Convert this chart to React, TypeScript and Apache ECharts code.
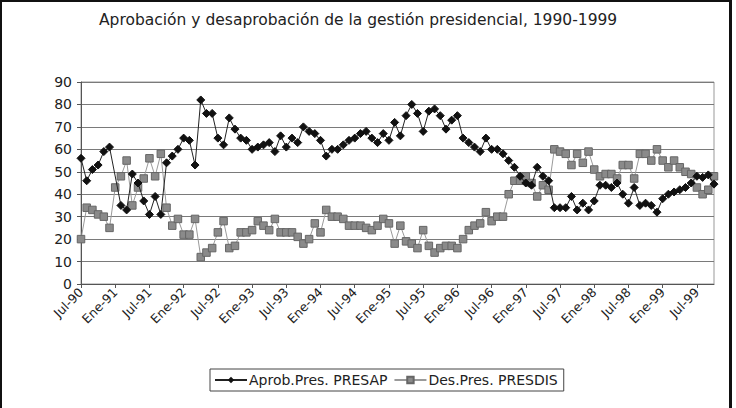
import React, { useEffect, useRef } from "react";
import * as echarts from "echarts";

const TITLE = "Aprobación y desaprobación de la gestión presidencial, 1990-1999";
const MONTH_NAMES = ["Ene", "Feb", "Mar", "Abr", "May", "Jun", "Jul", "Ago", "Sep", "Oct", "Nov", "Dic"];
const START_MONTH = 6; // Jul
const START_YEAR = 90;
const N_POINTS = 112; // Jul-90 .. Oct-99

const categories: string[] = [];
for (let k = 0; k < N_POINTS; k++) {
  const m = (START_MONTH + k) % 12;
  const y = START_YEAR + Math.floor((START_MONTH + k) / 12);
  categories.push(`${MONTH_NAMES[m]}-${String(y % 100).padStart(2, "0")}`);
}

const presap: (number | null)[] = [
  56, 46, 51, 53, 59, 61, null, 35, 33, 49,
  45, 37, 31, 39, 31, 54, 57, 60, 65, 64,
  53, 82, 76, 76, 65, 62, 74, 69, 65, 64,
  60, 61, 62, 63, 59, 66, 61, 65, 63, 70,
  68, 67, 64, 57, 60, 60, 62, 64, 65, 67,
  68, 65, 63, 67, 64, 72, 66, 75, 80, 76,
  68, 77, 78, 75, 69, 73, 75, 65, 63, 61,
  59, 65, 60, 60, 58, 55, 52, 48, 45, 44,
  52, 48, 46, 34, 34, 34, 39, 33, 36, 33,
  37, 44, 44, 43, 45, 40, 36, 43, 35, 36,
  35, 32, 38, 40, 41, 42, 43, 45, 48, 47.5,
  48.6, 44.5,
];

const presdis: number[] = [
  20, 34, 33, 31, 30, 25, 43, 48, 55, 35,
  43, 47, 56, 48, 58, 34, 26, 29, 22, 22,
  29, 12, 14, 16, 23, 28, 16, 17, 23, 23,
  24, 28, 26, 24, 29, 23, 23, 23, 21, 18,
  20, 27, 23, 33, 30, 30, 29, 26, 26, 26,
  25, 24, 26, 29, 27, 18, 26, 19, 18, 16,
  24, 17, 14, 16, 17, 17, 16, 20, 24, 26,
  27, 32, 28, 30, 30, 40, 46, 46, 48, 45,
  39, 44, 42, 60, 59, 58, 53, 58, 54, 59,
  51, 48, 49, 49, 47, 53, 53, 47, 58, 58,
  55, 60, 55, 52, 55, 52, 50, 49, 43, 40,
  42, 48,
];

const SERIES_NAMES = ["Aprob.Pres. PRESAP", "Des.Pres. PRESDIS"];
const FONT = "'DejaVu Sans', Verdana, sans-serif";

export default function App() {
  const ref = useRef<HTMLDivElement>(null);

  useEffect(() => {
    if (!ref.current) return;
    const chart = echarts.init(ref.current, undefined, { renderer: "svg" });
    chart.setOption({
      animation: false,
      backgroundColor: "#ffffff",
      title: {
        text: TITLE,
        left: 94,
        top: 7,
        textStyle: { fontFamily: FONT, fontSize: 15.5, fontWeight: "normal", color: "#222" },
      },
      legend: {
        data: SERIES_NAMES,
        left: 210,
        top: 369,
        itemGap: 6,
        itemWidth: 32,
        itemHeight: 8,
        borderColor: "#444",
        borderWidth: 1,
        padding: [4, 6, 4, 4],
        textStyle: { fontFamily: FONT, fontSize: 14, color: "#222", padding: [0, 0, 0, -3] },
      },
      grid: {
        left: 81,
        right: 22,
        top: 82,
        bottom: 124,
        show: true,
        borderColor: "#999",
        borderWidth: 1,
      },
      xAxis: {
        type: "category",
        data: categories,
        boundaryGap: false,
        axisLine: { lineStyle: { color: "#555" } },
        axisTick: { interval: 5, length: 4, lineStyle: { color: "#555" } },
        axisLabel: {
          interval: 5,
          rotate: 45,
          margin: 6,
          fontFamily: FONT,
          fontSize: 12.5,
          color: "#222",
        },
        splitLine: { show: false },
      },
      yAxis: {
        type: "value",
        min: 0,
        max: 90,
        interval: 10,
        axisLine: { show: true, lineStyle: { color: "#555" } },
        axisTick: { show: true, length: 4, lineStyle: { color: "#555" } },
        axisLabel: { fontFamily: FONT, fontSize: 14, color: "#222", margin: 9 },
        splitLine: { lineStyle: { color: "#7a7a7a", width: 1 } },
      },
      series: [
        {
          name: SERIES_NAMES[0],
          type: "line",
          data: presap,
          connectNulls: true,
          symbol: "diamond",
          symbolSize: 8,
          showAllSymbol: true,
          lineStyle: { color: "#222", width: 1 },
          itemStyle: { color: "#111", borderColor: "#111" },
          z: 3,
        },
        {
          name: SERIES_NAMES[1],
          type: "line",
          data: presdis,
          symbol: "rect",
          symbolSize: 7.5,
          showAllSymbol: true,
          lineStyle: { color: "#9a9a9a", width: 1 },
          itemStyle: { color: "#8a8a8a", borderColor: "#666", borderWidth: 1 },
          z: 2,
        },
      ],
    });
    return () => chart.dispose();
  }, []);

  return (
    <div style={{ position: "fixed", left: 0, top: 0, width: 736, height: 408, background: "#fff" }}>
      <div ref={ref} style={{ position: "absolute", left: 0, top: 0, width: 736, height: 408 }} />
      <div style={{ position: "absolute", left: 0, top: 0, width: 2, height: 408, background: "#111" }} />
      <div style={{ position: "absolute", left: 0, top: 0, width: 732, height: 2, background: "#111" }} />
      <div style={{ position: "absolute", left: 729, top: 0, width: 3, height: 408, background: "#111" }} />
    </div>
  );
}
